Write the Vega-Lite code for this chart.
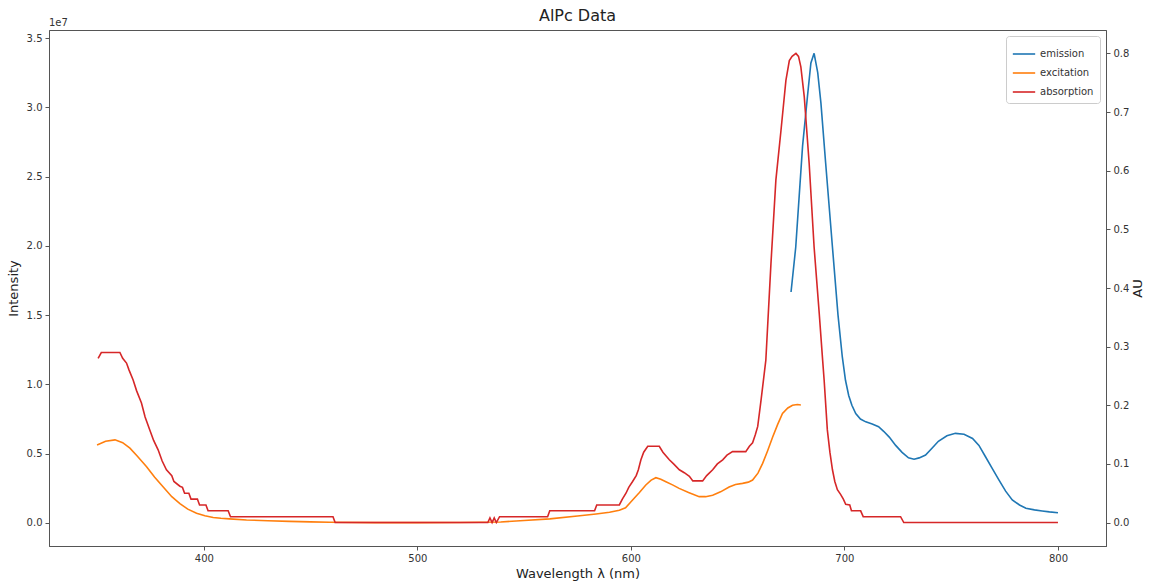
{
  "$schema": "https://vega.github.io/schema/vega-lite/v6.json",
  "width": 1057,
  "height": 516,
  "autosize": "none",
  "padding": {"left": 49, "top": 30, "right": 43, "bottom": 40},
  "background": "white",
  "title": {"text": "AlPc Data", "font": "DejaVu Sans", "fontSize": 16, "fontWeight": "normal", "color": "#222", "offset": -6},
  "config": {
    "font": "DejaVu Sans",
    "view": {"stroke": "#555", "strokeWidth": 1},
    "axis": {"grid": false, "domainColor": "#555", "tickColor": "#555", "labelColor": "#333", "titleColor": "#222", "labelFont": "DejaVu Sans", "titleFont": "DejaVu Sans", "labelFontSize": 10, "titleFontSize": 13, "titleFontWeight": "normal", "tickSize": 4, "labelPadding": 3}
  },
  "datasets": {
    "spectra": [
      {"series": "emission", "wavelength": 675, "value": 16670000},
      {"series": "emission", "wavelength": 677.2, "value": 19900000},
      {"series": "emission", "wavelength": 680.4, "value": 27200000},
      {"series": "emission", "wavelength": 682.7, "value": 30800000},
      {"series": "emission", "wavelength": 684.3, "value": 33200000},
      {"series": "emission", "wavelength": 685.8, "value": 33900000},
      {"series": "emission", "wavelength": 687.5, "value": 32500000},
      {"series": "emission", "wavelength": 689, "value": 30300000},
      {"series": "emission", "wavelength": 691.2, "value": 26000000},
      {"series": "emission", "wavelength": 694.4, "value": 19900000},
      {"series": "emission", "wavelength": 697, "value": 15000000},
      {"series": "emission", "wavelength": 699, "value": 12000000},
      {"series": "emission", "wavelength": 700.5, "value": 10300000},
      {"series": "emission", "wavelength": 702, "value": 9200000},
      {"series": "emission", "wavelength": 703.5, "value": 8500000},
      {"series": "emission", "wavelength": 705.3, "value": 7900000},
      {"series": "emission", "wavelength": 707.5, "value": 7500000},
      {"series": "emission", "wavelength": 710, "value": 7300000},
      {"series": "emission", "wavelength": 713, "value": 7150000},
      {"series": "emission", "wavelength": 716, "value": 6950000},
      {"series": "emission", "wavelength": 718.5, "value": 6600000},
      {"series": "emission", "wavelength": 721, "value": 6200000},
      {"series": "emission", "wavelength": 724, "value": 5600000},
      {"series": "emission", "wavelength": 727, "value": 5100000},
      {"series": "emission", "wavelength": 730, "value": 4700000},
      {"series": "emission", "wavelength": 732.6, "value": 4600000},
      {"series": "emission", "wavelength": 735, "value": 4700000},
      {"series": "emission", "wavelength": 738, "value": 4900000},
      {"series": "emission", "wavelength": 741, "value": 5400000},
      {"series": "emission", "wavelength": 744, "value": 5900000},
      {"series": "emission", "wavelength": 748, "value": 6300000},
      {"series": "emission", "wavelength": 752, "value": 6470000},
      {"series": "emission", "wavelength": 756, "value": 6400000},
      {"series": "emission", "wavelength": 760, "value": 6100000},
      {"series": "emission", "wavelength": 763, "value": 5600000},
      {"series": "emission", "wavelength": 766, "value": 4800000},
      {"series": "emission", "wavelength": 769, "value": 4000000},
      {"series": "emission", "wavelength": 772.4, "value": 3100000},
      {"series": "emission", "wavelength": 775.5, "value": 2300000},
      {"series": "emission", "wavelength": 778.6, "value": 1660000},
      {"series": "emission", "wavelength": 782, "value": 1300000},
      {"series": "emission", "wavelength": 785, "value": 1060000},
      {"series": "emission", "wavelength": 789, "value": 950000},
      {"series": "emission", "wavelength": 792.6, "value": 870000},
      {"series": "emission", "wavelength": 796, "value": 800000},
      {"series": "emission", "wavelength": 800, "value": 740000},

      {"series": "excitation", "wavelength": 350, "value": 5630000},
      {"series": "excitation", "wavelength": 354, "value": 5900000},
      {"series": "excitation", "wavelength": 358.4, "value": 6000000},
      {"series": "excitation", "wavelength": 362, "value": 5800000},
      {"series": "excitation", "wavelength": 365.4, "value": 5400000},
      {"series": "excitation", "wavelength": 369, "value": 4800000},
      {"series": "excitation", "wavelength": 373.2, "value": 4060000},
      {"series": "excitation", "wavelength": 377, "value": 3300000},
      {"series": "excitation", "wavelength": 381, "value": 2600000},
      {"series": "excitation", "wavelength": 385, "value": 1900000},
      {"series": "excitation", "wavelength": 388.8, "value": 1400000},
      {"series": "excitation", "wavelength": 392.5, "value": 1000000},
      {"series": "excitation", "wavelength": 396.6, "value": 700000},
      {"series": "excitation", "wavelength": 400.5, "value": 520000},
      {"series": "excitation", "wavelength": 404.4, "value": 400000},
      {"series": "excitation", "wavelength": 408, "value": 340000},
      {"series": "excitation", "wavelength": 412, "value": 300000},
      {"series": "excitation", "wavelength": 420, "value": 220000},
      {"series": "excitation", "wavelength": 430, "value": 160000},
      {"series": "excitation", "wavelength": 440, "value": 120000},
      {"series": "excitation", "wavelength": 450, "value": 80000},
      {"series": "excitation", "wavelength": 459, "value": 50000},
      {"series": "excitation", "wavelength": 480, "value": 30000},
      {"series": "excitation", "wavelength": 500, "value": 30000},
      {"series": "excitation", "wavelength": 520, "value": 40000},
      {"series": "excitation", "wavelength": 539, "value": 70000},
      {"series": "excitation", "wavelength": 550, "value": 180000},
      {"series": "excitation", "wavelength": 562, "value": 300000},
      {"series": "excitation", "wavelength": 575, "value": 500000},
      {"series": "excitation", "wavelength": 583.7, "value": 650000},
      {"series": "excitation", "wavelength": 590, "value": 780000},
      {"series": "excitation", "wavelength": 594.6, "value": 920000},
      {"series": "excitation", "wavelength": 597.5, "value": 1100000},
      {"series": "excitation", "wavelength": 600.8, "value": 1660000},
      {"series": "excitation", "wavelength": 604, "value": 2200000},
      {"series": "excitation", "wavelength": 607, "value": 2740000},
      {"series": "excitation", "wavelength": 609.5, "value": 3100000},
      {"series": "excitation", "wavelength": 611.7, "value": 3270000},
      {"series": "excitation", "wavelength": 614, "value": 3150000},
      {"series": "excitation", "wavelength": 616.4, "value": 2980000},
      {"series": "excitation", "wavelength": 619.5, "value": 2750000},
      {"series": "excitation", "wavelength": 622.6, "value": 2500000},
      {"series": "excitation", "wavelength": 627, "value": 2200000},
      {"series": "excitation", "wavelength": 632, "value": 1900000},
      {"series": "excitation", "wavelength": 635, "value": 1900000},
      {"series": "excitation", "wavelength": 638.3, "value": 2000000},
      {"series": "excitation", "wavelength": 642, "value": 2250000},
      {"series": "excitation", "wavelength": 646, "value": 2600000},
      {"series": "excitation", "wavelength": 649, "value": 2780000},
      {"series": "excitation", "wavelength": 652.3, "value": 2860000},
      {"series": "excitation", "wavelength": 655, "value": 2950000},
      {"series": "excitation", "wavelength": 657, "value": 3100000},
      {"series": "excitation", "wavelength": 659.5, "value": 3600000},
      {"series": "excitation", "wavelength": 661.7, "value": 4300000},
      {"series": "excitation", "wavelength": 664, "value": 5200000},
      {"series": "excitation", "wavelength": 666.4, "value": 6200000},
      {"series": "excitation", "wavelength": 668.7, "value": 7100000},
      {"series": "excitation", "wavelength": 671, "value": 7900000},
      {"series": "excitation", "wavelength": 673.5, "value": 8300000},
      {"series": "excitation", "wavelength": 675.7, "value": 8500000},
      {"series": "excitation", "wavelength": 678, "value": 8550000},
      {"series": "excitation", "wavelength": 679.6, "value": 8520000},

      {"series": "absorption", "wavelength": 350.5, "value": 0.28},
      {"series": "absorption", "wavelength": 352, "value": 0.29},
      {"series": "absorption", "wavelength": 360.7, "value": 0.29},
      {"series": "absorption", "wavelength": 362, "value": 0.28},
      {"series": "absorption", "wavelength": 363.8, "value": 0.272},
      {"series": "absorption", "wavelength": 365, "value": 0.26},
      {"series": "absorption", "wavelength": 366.9, "value": 0.243},
      {"series": "absorption", "wavelength": 368.5, "value": 0.225},
      {"series": "absorption", "wavelength": 370.8, "value": 0.204},
      {"series": "absorption", "wavelength": 372.5, "value": 0.18},
      {"series": "absorption", "wavelength": 374.7, "value": 0.158},
      {"series": "absorption", "wavelength": 376.5, "value": 0.14},
      {"series": "absorption", "wavelength": 378.6, "value": 0.124},
      {"series": "absorption", "wavelength": 380.5, "value": 0.105},
      {"series": "absorption", "wavelength": 382.5, "value": 0.09},
      {"series": "absorption", "wavelength": 385, "value": 0.08},
      {"series": "absorption", "wavelength": 386, "value": 0.07},
      {"series": "absorption", "wavelength": 388.8, "value": 0.062},
      {"series": "absorption", "wavelength": 390, "value": 0.06},
      {"series": "absorption", "wavelength": 391, "value": 0.05},
      {"series": "absorption", "wavelength": 393, "value": 0.05},
      {"series": "absorption", "wavelength": 394, "value": 0.04},
      {"series": "absorption", "wavelength": 397, "value": 0.04},
      {"series": "absorption", "wavelength": 398, "value": 0.03},
      {"series": "absorption", "wavelength": 401, "value": 0.03},
      {"series": "absorption", "wavelength": 402, "value": 0.02},
      {"series": "absorption", "wavelength": 411.4, "value": 0.02},
      {"series": "absorption", "wavelength": 412.5, "value": 0.01},
      {"series": "absorption", "wavelength": 460.5, "value": 0.01},
      {"series": "absorption", "wavelength": 461.5, "value": 0},
      {"series": "absorption", "wavelength": 533, "value": 0},
      {"series": "absorption", "wavelength": 534, "value": 0.008},
      {"series": "absorption", "wavelength": 535, "value": 0},
      {"series": "absorption", "wavelength": 536, "value": 0.008},
      {"series": "absorption", "wavelength": 537, "value": 0},
      {"series": "absorption", "wavelength": 538.5, "value": 0.01},
      {"series": "absorption", "wavelength": 561, "value": 0.01},
      {"series": "absorption", "wavelength": 562, "value": 0.02},
      {"series": "absorption", "wavelength": 583, "value": 0.02},
      {"series": "absorption", "wavelength": 584, "value": 0.03},
      {"series": "absorption", "wavelength": 594.6, "value": 0.03},
      {"series": "absorption", "wavelength": 596, "value": 0.04},
      {"series": "absorption", "wavelength": 597.7, "value": 0.05},
      {"series": "absorption", "wavelength": 599, "value": 0.06},
      {"series": "absorption", "wavelength": 600.8, "value": 0.07},
      {"series": "absorption", "wavelength": 602.5, "value": 0.08},
      {"series": "absorption", "wavelength": 603.5, "value": 0.09},
      {"series": "absorption", "wavelength": 604.7, "value": 0.107},
      {"series": "absorption", "wavelength": 606, "value": 0.12},
      {"series": "absorption", "wavelength": 607.9, "value": 0.13},
      {"series": "absorption", "wavelength": 613.3, "value": 0.13},
      {"series": "absorption", "wavelength": 615, "value": 0.12},
      {"series": "absorption", "wavelength": 618, "value": 0.107},
      {"series": "absorption", "wavelength": 620, "value": 0.1},
      {"series": "absorption", "wavelength": 622.7, "value": 0.09},
      {"series": "absorption", "wavelength": 625, "value": 0.085},
      {"series": "absorption", "wavelength": 627.4, "value": 0.079},
      {"series": "absorption", "wavelength": 629, "value": 0.071},
      {"series": "absorption", "wavelength": 633.6, "value": 0.071},
      {"series": "absorption", "wavelength": 635.5, "value": 0.08},
      {"series": "absorption", "wavelength": 638.3, "value": 0.09},
      {"series": "absorption", "wavelength": 640.5, "value": 0.1},
      {"series": "absorption", "wavelength": 643, "value": 0.107},
      {"series": "absorption", "wavelength": 645, "value": 0.115},
      {"series": "absorption", "wavelength": 647.6, "value": 0.121},
      {"series": "absorption", "wavelength": 653.8, "value": 0.121},
      {"series": "absorption", "wavelength": 655.5, "value": 0.13},
      {"series": "absorption", "wavelength": 657, "value": 0.136},
      {"series": "absorption", "wavelength": 658.3, "value": 0.15},
      {"series": "absorption", "wavelength": 659.4, "value": 0.164},
      {"series": "absorption", "wavelength": 661, "value": 0.21},
      {"series": "absorption", "wavelength": 663.2, "value": 0.277},
      {"series": "absorption", "wavelength": 665.6, "value": 0.442},
      {"series": "absorption", "wavelength": 667.9, "value": 0.584},
      {"series": "absorption", "wavelength": 670.3, "value": 0.669},
      {"series": "absorption", "wavelength": 672.6, "value": 0.754},
      {"series": "absorption", "wavelength": 674.2, "value": 0.788},
      {"series": "absorption", "wavelength": 675.5, "value": 0.795},
      {"series": "absorption", "wavelength": 677.3, "value": 0.8},
      {"series": "absorption", "wavelength": 678.5, "value": 0.795},
      {"series": "absorption", "wavelength": 679.6, "value": 0.777},
      {"series": "absorption", "wavelength": 681.2, "value": 0.726},
      {"series": "absorption", "wavelength": 683.5, "value": 0.612},
      {"series": "absorption", "wavelength": 685.8, "value": 0.47},
      {"series": "absorption", "wavelength": 688.2, "value": 0.357},
      {"series": "absorption", "wavelength": 689.8, "value": 0.277},
      {"series": "absorption", "wavelength": 690.5, "value": 0.243},
      {"series": "absorption", "wavelength": 692, "value": 0.158},
      {"series": "absorption", "wavelength": 693.2, "value": 0.12},
      {"series": "absorption", "wavelength": 694.4, "value": 0.09},
      {"series": "absorption", "wavelength": 695.5, "value": 0.07},
      {"series": "absorption", "wavelength": 696.7, "value": 0.056},
      {"series": "absorption", "wavelength": 698.2, "value": 0.048},
      {"series": "absorption", "wavelength": 699.5, "value": 0.04},
      {"series": "absorption", "wavelength": 700.6, "value": 0.031},
      {"series": "absorption", "wavelength": 702.5, "value": 0.03},
      {"series": "absorption", "wavelength": 703.3, "value": 0.02},
      {"series": "absorption", "wavelength": 707.6, "value": 0.02},
      {"series": "absorption", "wavelength": 708.8, "value": 0.01},
      {"series": "absorption", "wavelength": 726.3, "value": 0.01},
      {"series": "absorption", "wavelength": 727.8, "value": 0},
      {"series": "absorption", "wavelength": 800, "value": 0}
    ]
  },
  "layer": [
    {
      "layer": [
        {
          "data": {"name": "spectra"},
          "transform": [{"filter": "datum.series !== 'absorption'"}],
          "mark": {"type": "line", "strokeWidth": 1.6, "clip": true},
          "encoding": {
            "x": {"field": "wavelength", "type": "quantitative", "scale": {"domain": [327.5, 822.5], "nice": false, "zero": false},
                  "axis": {"values": [400, 500, 600, 700, 800], "title": "Wavelength λ (nm)", "titlePadding": 4}},
            "y": {"field": "value", "type": "quantitative", "scale": {"domain": [-1660000, 35580000], "nice": false, "zero": false},
                  "axis": {"orient": "left", "values": [0, 5000000, 10000000, 15000000, 20000000, 25000000, 30000000, 35000000], "labelExpr": "format(datum.value / 1e7, '.1f')", "title": "Intensity", "titlePadding": 6}},
            "color": {"field": "series", "type": "nominal",
                      "scale": {"domain": ["emission", "excitation", "absorption"], "range": ["#1f77b4", "#ff7f0e", "#d62728"]},
                      "legend": {"title": null, "orient": "top-right", "offset": 6, "symbolType": "stroke", "symbolStrokeWidth": 1.6, "symbolSize": 500, "labelFontSize": 10, "labelColor": "#333", "strokeColor": "#ccc", "cornerRadius": 3, "padding": 6, "rowPadding": 2, "fillColor": "white"}},
            "detail": {"field": "series"}
          }
        },
        {
          "data": {"values": [{"label": "1e7"}]},
          "mark": {"type": "text", "align": "left", "baseline": "bottom", "dy": -2, "fontSize": 10, "color": "#333", "font": "DejaVu Sans"},
          "encoding": {
            "x": {"datum": 327.5, "type": "quantitative"},
            "y": {"datum": 35580000, "type": "quantitative"},
            "text": {"field": "label"}
          }
        }
      ]
    },
    {
      "data": {"name": "spectra"},
      "transform": [{"filter": "datum.series === 'absorption'"}],
      "mark": {"type": "line", "strokeWidth": 1.6, "clip": true},
      "encoding": {
        "x": {"field": "wavelength", "type": "quantitative"},
        "y": {"field": "value", "type": "quantitative", "scale": {"domain": [-0.04, 0.84], "nice": false, "zero": false},
              "axis": {"orient": "right", "values": [0, 0.1, 0.2, 0.3, 0.4, 0.5, 0.6, 0.7, 0.8], "format": ".1f", "title": "AU", "titleAngle": 270, "titleBaseline": "middle", "titleAlign": "center", "titleX": 31, "titleY": 258}},
        "color": {"field": "series", "type": "nominal"}
      }
    }
  ],
  "resolve": {"scale": {"y": "independent"}}
}
